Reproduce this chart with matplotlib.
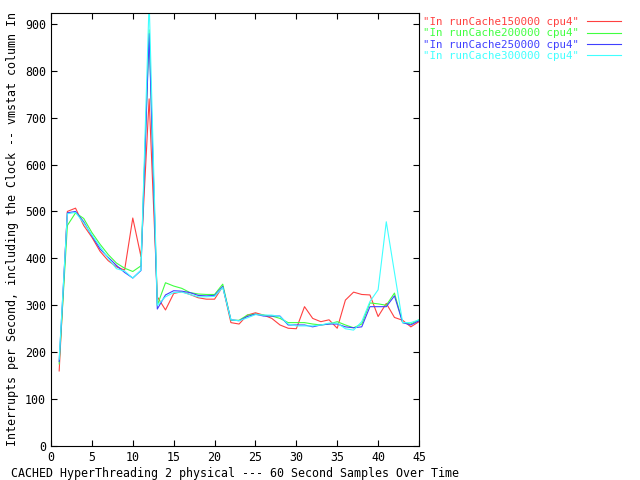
import matplotlib
matplotlib.use('Agg')
import matplotlib.pyplot as plt

x = list(range(1, 46))

cache150 = [160, 500, 507, 470, 445, 415, 395, 382, 375, 486,
            404, 740, 318, 290, 325, 329, 323, 316, 313, 313,
            340, 263, 260, 279, 284, 279, 272, 258, 251, 250,
            297, 272, 265, 269, 251, 311, 328, 323, 322, 276,
            304, 274, 268, 254, 265]
cache200 = [175, 470, 497, 485, 455, 430, 408, 390, 379, 372,
            384, 887, 300, 348, 341, 336, 327, 324, 323, 323,
            345, 268, 268, 279, 281, 279, 277, 272, 263, 263,
            263, 260, 258, 260, 265, 258, 252, 260, 305, 303,
            300, 326, 263, 260, 269]
cache250 = [180, 497, 500, 478, 448, 420, 402, 385, 370, 358,
            374, 879, 292, 322, 331, 330, 327, 321, 320, 321,
            340, 269, 267, 276, 281, 277, 277, 277, 258, 258,
            258, 254, 258, 260, 260, 254, 252, 254, 297, 297,
            297, 320, 263, 258, 267]
cache300 = [185, 495, 498, 475, 450, 425, 400, 378, 373, 358,
            375, 950, 300, 318, 327, 328, 323, 318, 318, 319,
            338, 269, 267, 273, 280, 279, 279, 276, 260, 256,
            256, 256, 258, 262, 262, 250, 247, 265, 308, 333,
            478, 370, 263, 263, 269]

labels = ['"In runCache150000 cpu4"', '"In runCache200000 cpu4"',
          '"In runCache250000 cpu4"', '"In runCache300000 cpu4"']
colors = ['#ff4040', '#40ff40', '#4040ff', '#40ffff']

plt.rcParams['font.family'] = 'DejaVu Sans Mono'
plt.rcParams['font.size'] = 8.4

fig = plt.figure(figsize=(6.4, 4.8), dpi=100)
ax = fig.add_axes([51/640, 34/480, 368/640, 433/480])

for ys, lab, c in zip([cache150, cache200, cache250, cache300], labels, colors):
    ax.plot(x, ys, color=c, lw=0.8, label=lab)

ax.set_xlim(0, 45)
ax.set_ylim(0, 923)
ax.set_xticks(range(0, 46, 5))
ax.set_yticks(range(0, 901, 100))
ax.tick_params(direction='in', length=4, width=0.8, top=True, right=True, pad=3.6)
for s in ax.spines.values():
    s.set_linewidth(0.8)

ax.set_xlabel('CACHED HyperThreading 2 physical --- 60 Second Samples Over Time', labelpad=2)
ax.set_ylabel('Interrupts per Second, including the Clock -- vmstat column In', labelpad=4.6)

ax.legend(loc='upper left', bbox_to_anchor=(423/640, 1 - 17/480),
          bbox_transform=fig.transFigure, frameon=False, markerfirst=False,
          labelcolor='linecolor', fontsize=7.8, handlelength=3.1,
          handletextpad=0.75, labelspacing=0.12, borderpad=0, borderaxespad=0)

fig.savefig('out.png')
